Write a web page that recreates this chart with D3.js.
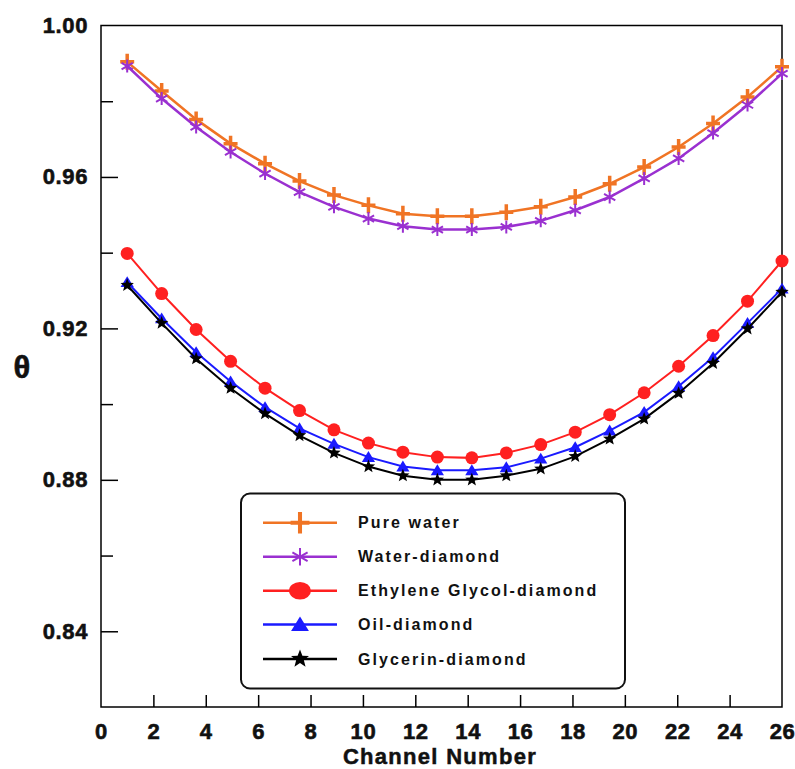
<!DOCTYPE html>
<html><head><meta charset="utf-8">
<script src="https://cdn.jsdelivr.net/npm/d3@7"></script>
<style>body{margin:0;background:#fff}svg{display:block}</style>
</head><body>
<svg id="c" width="795" height="769"></svg>
<script>
const channels = [1, 2.316, 3.632, 4.947, 6.263, 7.579, 8.895, 10.211, 11.526, 12.842, 14.158, 15.474, 16.789, 18.105, 19.421, 20.737, 22.053, 23.368, 24.684, 26];
const pureWater = [0.9904, 0.9827, 0.9752, 0.9688, 0.9635, 0.9589, 0.9552, 0.9525, 0.9503, 0.9496, 0.9496, 0.9507, 0.9521, 0.9547, 0.9582, 0.9626, 0.9679, 0.9741, 0.9811, 0.9891];
const waterDiamond = [0.9893, 0.9807, 0.9732, 0.9666, 0.9609, 0.9560, 0.9521, 0.9490, 0.9470, 0.9461, 0.9461, 0.9468, 0.9484, 0.9512, 0.9547, 0.9596, 0.9649, 0.9716, 0.9790, 0.9873];
const egDiamond = [0.9398, 0.9292, 0.9197, 0.9113, 0.9042, 0.8983, 0.8932, 0.8897, 0.8873, 0.8860, 0.8858, 0.8871, 0.8893, 0.8926, 0.8972, 0.9030, 0.9100, 0.9181, 0.9272, 0.9378];
const oilDiamond = [0.9322, 0.9226, 0.9137, 0.9060, 0.8992, 0.8936, 0.8895, 0.8860, 0.8835, 0.8825, 0.8825, 0.8833, 0.8856, 0.8886, 0.8930, 0.8979, 0.9047, 0.9124, 0.9214, 0.9305];
const glycerinDiamond = [0.9314, 0.9214, 0.9120, 0.9042, 0.8975, 0.8917, 0.8871, 0.8835, 0.8811, 0.8800, 0.8800, 0.8811, 0.8829, 0.8862, 0.8908, 0.8961, 0.9029, 0.9108, 0.9199, 0.9296];
const seriesNames = ["Pure water", "Water-diamond", "Ethylene Glycol-diamond", "Oil-diamond", "Glycerin-diamond"];
const xTicks = [0,2,4,6,8,10,12,14,16,18,20,22,24,26];
const yMajorTicks = [0.84, 0.88, 0.92, 0.96, 1.00];
const yMinorTicks = [0.86, 0.90, 0.94, 0.98];
const xLabel = "Channel Number";
const yLabel = "θ";

const svg = d3.select("#c");
const m = {l:101, t:25.5, r:782, b:707};
const x = d3.scaleLinear().domain([0,26]).range([m.l, m.r]);
const y = d3.scaleLinear().domain([0.82,1.00]).range([m.b, m.t]);

const font = "'Liberation Sans', Arial, sans-serif";

// axes
const gy = svg.append("g").attr("transform",`translate(${m.l},0)`)
  .call(d3.axisLeft(y).tickValues(yMajorTicks).tickSize(-17).tickPadding(13).tickFormat(d3.format(".2f")));
const gy2 = svg.append("g").attr("transform",`translate(${m.l},0)`)
  .call(d3.axisLeft(y).tickValues(yMinorTicks).tickSize(-12).tickFormat(""));
const gx = svg.append("g").attr("transform",`translate(0,${m.b})`)
  .call(d3.axisBottom(x).tickValues(xTicks).tickSize(-12).tickPadding(16).tickFormat(d3.format("d")));
[gy,gy2,gx].forEach(g=>{
  g.select(".domain").remove();
  g.selectAll("line").attr("stroke","#000").attr("stroke-width",1.5);
  g.selectAll("text").attr("font-family",font).attr("font-weight","bold").attr("font-size",22)
    .attr("fill","#111").attr("stroke","#111").attr("stroke-width",0.6).attr("letter-spacing",0.6);
});
gx.selectAll(".tick").filter(d=>d===0||d===26).select("line").remove();
gy.selectAll(".tick").filter(d=>d===1.00).select("line").remove();

svg.append("rect").attr("x",m.l).attr("y",m.t).attr("width",m.r-m.l).attr("height",m.b-m.t)
  .attr("fill","none").attr("stroke","#000").attr("stroke-width",1.5);

svg.append("text").attr("x",440).attr("y",764).attr("text-anchor","middle")
  .attr("font-family",font).attr("font-weight","bold").attr("font-size",22).attr("letter-spacing",1.3)
  .attr("fill","#111").attr("stroke","#111").attr("stroke-width",0.5).text(xLabel);
svg.append("text").attr("x",22).attr("y",378).attr("text-anchor","middle")
  .attr("font-family",font).attr("font-weight","bold").attr("font-size",31).attr("fill","#111")
  .attr("stroke","#111").attr("stroke-width",0.6).text(yLabel);

// markers
function starPath(R, r){
  let p=[];
  for(let i=0;i<10;i++){const a=-Math.PI/2+i*Math.PI/5; const rr=i%2?r:R; p.push([rr*Math.cos(a), rr*Math.sin(a)]);}
  return "M"+p.map(d=>d.join(",")).join("L")+"Z";
}
const series = [
  {name:seriesNames[0], data:pureWater, color:"#f07424", lw:2.5, marker:"plus"},
  {name:seriesNames[1], data:waterDiamond, color:"#9a30d0", lw:2.5, marker:"aster"},
  {name:seriesNames[2], data:egDiamond, color:"#ff2020", lw:2, marker:"circle"},
  {name:seriesNames[3], data:oilDiamond, color:"#1a1aff", lw:2, marker:"tri"},
  {name:seriesNames[4], data:glycerinDiamond, color:"#000", lw:2, marker:"star"}
];
function drawMarker(g, type, color, s){
  if(type==="plus"){
    g.append("path").attr("d",`M${-7*s},0H${7*s}M0,${-8*s}V${8*s}`).attr("stroke",color).attr("stroke-width",3.5*Math.sqrt(s)).attr("fill","none");
  } else if(type==="aster"){
    const r=6.5*s, c=r*Math.cos(Math.PI/6), sn=r*Math.sin(Math.PI/6);
    g.append("path").attr("d",`M0,${-r}V${r}M${-c},${-sn}L${c},${sn}M${-c},${sn}L${c},${-sn}`).attr("stroke",color).attr("stroke-width",2).attr("fill","none");
  } else if(type==="circle"){
    g.append("ellipse").attr("rx",6.5*s*(s>1?1.25:1)).attr("ry",6.5*s).attr("fill",color);
  } else if(type==="tri"){
    const h=6*s;
    g.append("path").attr("d",`M0,${-h}L${h*1.1},${h*0.8}L${-h*1.1},${h*0.8}Z`).attr("fill",color);
  } else if(type==="star"){
    g.append("path").attr("d",starPath(7*s,3*s)).attr("fill",color);
  }
}
const line = d3.line().x((d,i)=>x(channels[i])).y(d=>y(d));
series.forEach(sr=>{
  svg.append("path").datum(sr.data).attr("d",line).attr("fill","none").attr("stroke",sr.color).attr("stroke-width",sr.lw);
  const g = svg.append("g");
  sr.data.forEach((v,i)=>{
    const mg = g.append("g").attr("transform",`translate(${x(channels[i])},${y(v)})`);
    drawMarker(mg, sr.marker, sr.color, 1);
  });
});

// legend
const lg = svg.append("g");
lg.append("rect").attr("x",241).attr("y",493.5).attr("width",384).attr("height",195).attr("rx",9)
  .attr("fill","#fff").attr("stroke","#111").attr("stroke-width",2);
const rowY = [522.7, 556.7, 590.7, 624.5, 659];
series.forEach((sr,i)=>{
  lg.append("line").attr("x1",263).attr("x2",337).attr("y1",rowY[i]).attr("y2",rowY[i]).attr("stroke",sr.color).attr("stroke-width",2.5);
  const mg = lg.append("g").attr("transform",`translate(300,${rowY[i]})`);
  drawMarker(mg, sr.marker, sr.color, 1.35);
  lg.append("text").attr("x",358).attr("y",rowY[i]+5.5).attr("font-family",font).attr("font-weight","bold")
    .attr("font-size",16).attr("letter-spacing",2.1).attr("fill","#111").text(sr.name);
});
</script>
</body></html>
